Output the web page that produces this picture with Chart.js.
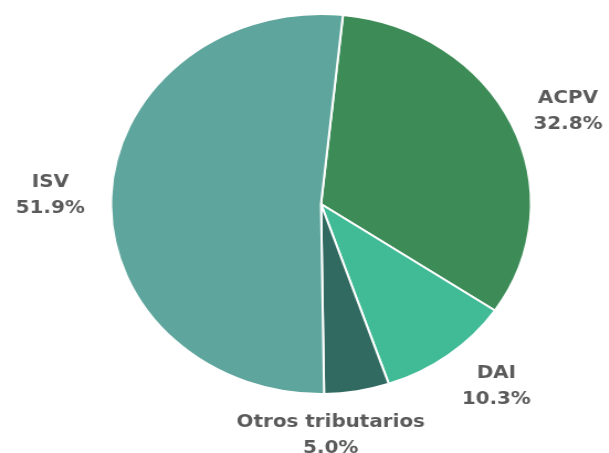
<!DOCTYPE html>
<html>
<head>
<meta charset="utf-8">
<script src="https://cdn.jsdelivr.net/npm/chart.js@4"></script>
<style>
  html, body { margin: 0; padding: 0; background: #fff; overflow: hidden; }
  #wrap { width: 609px; height: 453px; position: relative; }
  #c { position: absolute; left: 0; top: 0; transform: scaleX(1.105); transform-origin: 0 0; }
</style>
</head>
<body>
<div id="wrap"><canvas id="c" width="551" height="453"></canvas></div>
<script>
const categories = ['ACPV', 'DAI', 'Otros tributarios', 'ISV'];
const shares = [32.8, 10.3, 5.0, 51.9];
const pctLabels = ['32.8%', '10.3%', '5.0%', '51.9%'];
const sliceColors = ['#3d8c57', '#40bb96', '#306a60', '#5ea69d'];

const outsideLabels = {
  id: 'outsideLabels',
  afterDatasetsDraw(chart, args, opts) {
    const ctx = chart.ctx;
    const meta = chart.getDatasetMeta(0);
    ctx.save();
    ctx.font = 'bold 18px "DejaVu Sans", Verdana, sans-serif';
    ctx.fillStyle = '#5a5a5a';
    ctx.textAlign = 'center';
    ctx.textBaseline = 'middle';
    const lh = 26;
    meta.data.forEach((arc, i) => {
      const p = arc.getProps(['x', 'y', 'startAngle', 'endAngle', 'outerRadius'], true);
      const mid = (p.startAngle + p.endAngle) / 2;
      const dx = Math.cos(mid), dy = Math.sin(mid);
      const l1 = categories[i], l2 = pctLabels[i];
      const w = Math.max(ctx.measureText(l1).width, ctx.measureText(l2).width);
      const h = lh * 2;
      const r = p.outerRadius + opts.pad;
      const nudge = opts.nudge[i] || [0, 0];
      const cx = p.x + dx * r + dx * w / 2 + nudge[0];
      const cy = p.y + dy * r + dy * h / 2 + nudge[1];
      ctx.fillText(l1, cx, cy - lh / 2);
      ctx.fillText(l2, cx, cy + lh / 2);
    });
    ctx.restore();
  }
};

new Chart(document.getElementById('c'), {
  type: 'pie',
  data: {
    labels: categories,
    datasets: [{
      data: shares,
      backgroundColor: sliceColors,
      borderColor: '#ffffff',
      borderWidth: 2,
      radius: 190
    }]
  },
  options: {
    responsive: false,
    devicePixelRatio: 1,
    animation: false,
    rotation: 6,
    layout: { padding: { left: 30, right: 0, top: 14, bottom: 59 } },
    plugins: {
      legend: { display: false },
      tooltip: { enabled: false },
      outsideLabels: { pad: 22, nudge: [[3, 8], [11, -7], [-42, -3], [-2, 2]] }
    }
  },
  plugins: [outsideLabels]
});
</script>
</body>
</html>
